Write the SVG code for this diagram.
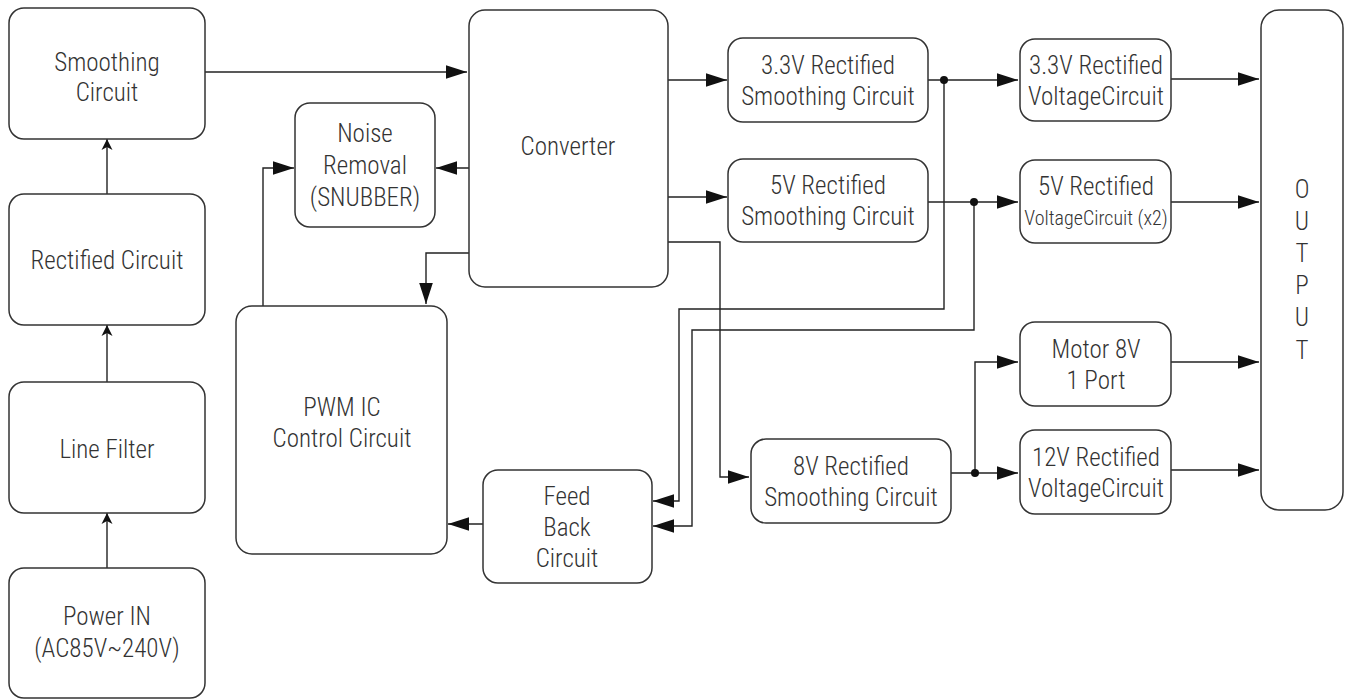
<svg xmlns="http://www.w3.org/2000/svg" width="1349" height="700" viewBox="0 0 1349 700">
<style>
.box{fill:#fff;stroke:#333;stroke-width:1.5}
.t{font-family:"Roboto Condensed","Liberation Sans Narrow","DejaVu Sans Condensed","Liberation Sans",sans-serif;font-size:25px;font-weight:300;fill:#333;text-anchor:middle}
.s{font-size:20px}
.c{fill:none;stroke:#222;stroke-width:1.4}
.big{marker-end:url(#ab)}
.sm{marker-end:url(#as)}
.dot{fill:#111}
</style>
<defs>
<marker id="ab" viewBox="0 -7 21 14" refX="21" refY="0" markerWidth="21" markerHeight="14" markerUnits="userSpaceOnUse" orient="auto"><path d="M0,-6.8 L21,0 L0,6.8 z" fill="#111"/></marker>
<marker id="as" viewBox="0 -6 11 12" refX="11" refY="0" markerWidth="11" markerHeight="12" markerUnits="userSpaceOnUse" orient="auto"><path d="M0,-5.5 L11,0 L0,5.5 L3,0 z" fill="#111"/></marker>
</defs>
<rect width="1349" height="700" fill="#fff"/>
<g id="connectors">
<path class="c sm" d="M107,568 V513"/>
<path class="c sm" d="M107,382 V325"/>
<path class="c sm" d="M107,194 V139"/>
<path class="c big" d="M205,72 H467"/>
<path class="c big" d="M469,168 H436"/>
<path class="c big" d="M263,306 V168 H294"/>
<path class="c big" d="M469,253 H426 V304"/>
<path class="c big" d="M668,80 H727"/>
<path class="c big" d="M668,197 H727"/>
<path class="c big" d="M668,242 H720 V477 H749"/>
<path class="c big" d="M928,80 H1018"/>
<path class="c big" d="M944,80 V309 H679 V501 H653"/>
<path class="c big" d="M928,202 H1018"/>
<path class="c big" d="M974,202 V330 H692 V526 H653"/>
<path class="c big" d="M483,524 H448"/>
<path class="c big" d="M951,473 H1018"/>
<path class="c big" d="M975,473 V362 H1018"/>
<path class="c big" d="M1171,79 H1259"/>
<path class="c big" d="M1171,202 H1259"/>
<path class="c big" d="M1171,362 H1259"/>
<path class="c big" d="M1171,470 H1259"/>
<circle class="dot" cx="944" cy="80" r="4"/>
<circle class="dot" cx="974" cy="202" r="4"/>
<circle class="dot" cx="975" cy="473" r="4"/>
</g>
<g id="smoothing"><rect class="box" x="9" y="8" width="196" height="131" rx="15"/><text class="t" x="107" y="71">Smoothing</text><text class="t" x="107" y="101">Circuit</text></g>
<g id="rectified"><rect class="box" x="9" y="194" width="196" height="131" rx="15"/><text class="t" x="107" y="269">Rectified Circuit</text></g>
<g id="linefilter"><rect class="box" x="9" y="382" width="196" height="131" rx="15"/><text class="t" x="107" y="458">Line Filter</text></g>
<g id="powerin"><rect class="box" x="9" y="568" width="196" height="130" rx="15"/><text class="t" x="107" y="625">Power IN</text><text class="t" x="107" y="657">(AC85V~240V)</text></g>
<g id="noise"><rect class="box" x="295" y="103" width="140" height="124" rx="15"/><text class="t" x="365" y="142">Noise</text><text class="t" x="365" y="174">Removal</text><text class="t" x="365" y="206">(SNUBBER)</text></g>
<g id="converter"><rect class="box" x="469" y="10" width="199" height="277" rx="16"/><text class="t" x="568" y="155">Converter</text></g>
<g id="pwm"><rect class="box" x="236" y="306" width="211" height="248" rx="16"/><text class="t" x="342" y="416">PWM IC</text><text class="t" x="342" y="447">Control Circuit</text></g>
<g id="feedback"><rect class="box" x="483" y="470" width="169" height="113" rx="15"/><text class="t" x="567" y="505">Feed</text><text class="t" x="567" y="536">Back</text><text class="t" x="567" y="567">Circuit</text></g>
<g id="s33"><rect class="box" x="728" y="38" width="200" height="84" rx="15"/><text class="t" x="828" y="74">3.3V Rectified</text><text class="t" x="828" y="105">Smoothing Circuit</text></g>
<g id="s5"><rect class="box" x="728" y="159" width="200" height="83" rx="15"/><text class="t" x="828" y="194">5V Rectified</text><text class="t" x="828" y="225">Smoothing Circuit</text></g>
<g id="s8"><rect class="box" x="751" y="439" width="200" height="84" rx="15"/><text class="t" x="851" y="475">8V Rectified</text><text class="t" x="851" y="506">Smoothing Circuit</text></g>
<g id="v33"><rect class="box" x="1020" y="39" width="151" height="82" rx="15"/><text class="t" x="1096" y="74">3.3V Rectified</text><text class="t" x="1096" y="105">VoltageCircuit</text></g>
<g id="v5"><rect class="box" x="1020" y="160" width="151" height="83" rx="15"/><text class="t" x="1096" y="195">5V Rectified</text><text class="t s" x="1096" y="225">VoltageCircuit (x2)</text></g>
<g id="motor"><rect class="box" x="1020" y="322" width="151" height="84" rx="15"/><text class="t" x="1096" y="358">Motor 8V</text><text class="t" x="1096" y="389">1 Port</text></g>
<g id="v12"><rect class="box" x="1020" y="430" width="151" height="84" rx="15"/><text class="t" x="1096" y="466">12V Rectified</text><text class="t" x="1096" y="497">VoltageCircuit</text></g>
<g id="output"><rect class="box" x="1261" y="10" width="82" height="500" rx="18"/><text class="t" x="1302" y="198">O</text><text class="t" x="1302" y="230">U</text><text class="t" x="1302" y="262">T</text><text class="t" x="1302" y="294">P</text><text class="t" x="1302" y="326">U</text><text class="t" x="1302" y="359">T</text></g>
</svg>
